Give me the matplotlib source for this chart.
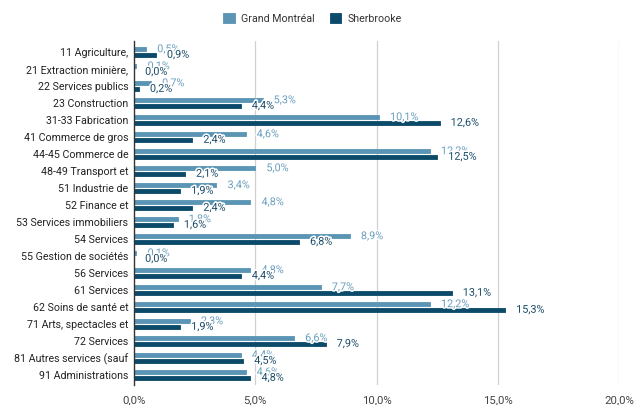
import matplotlib
matplotlib.use("Agg")
import matplotlib.pyplot as plt
import matplotlib.patheffects as pe
import numpy as np

plt.rcParams['font.family'] = ['Roboto', 'DejaVu Sans']

categories = [
    "11 Agriculture,", "21 Extraction minière,", "22 Services publics",
    "23 Construction", "31-33 Fabrication", "41 Commerce de gros",
    "44-45 Commerce de", "48-49 Transport et", "51 Industrie de",
    "52 Finance et", "53 Services immobiliers", "54 Services",
    "55 Gestion de sociétés", "56 Services", "61 Services",
    "62 Soins de santé et", "71 Arts, spectacles et", "72 Services",
    "81 Autres services (sauf", "91 Administrations",
]
grand_montreal = [0.5, 0.1, 0.7, 5.3, 10.1, 4.6, 12.2, 5.0, 3.4, 4.8,
                  1.8, 8.9, 0.1, 4.8, 7.7, 12.2, 2.3, 6.6, 4.4, 4.6]
sherbrooke = [0.9, 0.0, 0.2, 4.4, 12.6, 2.4, 12.5, 2.1, 1.9, 2.4,
              1.6, 6.8, 0.0, 4.4, 13.1, 15.3, 1.9, 7.9, 4.5, 4.8]
series_names = ["Grand Montréal", "Sherbrooke"]
xticks = [0, 5, 10, 15, 20]

c_light = "#5b95b5"
c_dark = "#0b4a68"
c_light_txt = "#6a9fbe"
c_dark_txt = "#1b4c68"

fig = plt.figure(figsize=(6.34, 4.05), dpi=100)
W, H = 634, 405
left, right, top, bottom = 134, 619, 41, 385
ax = fig.add_axes([left / W, 1 - bottom / H, (right - left) / W, (bottom - top) / H])

y = np.arange(len(categories))
off = 0.165
h = 0.24

ax.barh(y - off, grand_montreal, height=h, color=c_light, edgecolor=c_light,
        linewidth=0.6, joinstyle='round', label=series_names[0], zorder=3)
ax.barh(y + off, sherbrooke, height=h, color=c_dark, edgecolor=c_dark,
        linewidth=0.6, joinstyle='round', label=series_names[1], zorder=3)

halo = [pe.withStroke(linewidth=2.2, foreground="white")]
fmt = lambda v: f"{v:.1f}".replace(".", ",") + "%"
for i, v in enumerate(grand_montreal):
    ax.annotate(fmt(v), (v, i - off), xytext=(8, 0), textcoords='offset points',
                ha='left', va='center', fontsize=7.8, color=c_light_txt,
                path_effects=halo, zorder=5)
for i, v in enumerate(sherbrooke):
    ax.annotate(fmt(v), (v, i + off), xytext=(8, 0), textcoords='offset points',
                ha='left', va='center', fontsize=7.8, color=c_dark_txt,
                path_effects=halo, zorder=6)

ax.set_xlim(0, 20)
ax.set_ylim(19.59, -0.647)
ax.set_yticks(y)
ax.set_yticklabels(categories, fontsize=7.7, color="#222222")
ax.set_xticks(xticks)
ax.set_xticklabels([fmt(t) for t in xticks], fontsize=8.2, color="#444444")
ax.tick_params(axis='both', length=0)
ax.tick_params(axis='y', pad=4)
ax.tick_params(axis='x', pad=7)
for s in ['top', 'right', 'bottom']:
    ax.spines[s].set_visible(False)
ax.spines['left'].set_color("#333333")
ax.spines['left'].set_linewidth(1.0)
ax.spines['left'].set_zorder(4)
for t in xticks[1:]:
    ax.axvline(t, color="#d0d0d0", linewidth=0.9, zorder=1)

fig.legend(loc='center', bbox_to_anchor=(0.493, 0.954), ncol=2, frameon=False,
           fontsize=7.7, handlelength=1.05, handleheight=1.05, handletextpad=0.6,
           columnspacing=1.4, labelcolor="#333333")

fig.savefig("out.png", dpi=100)
